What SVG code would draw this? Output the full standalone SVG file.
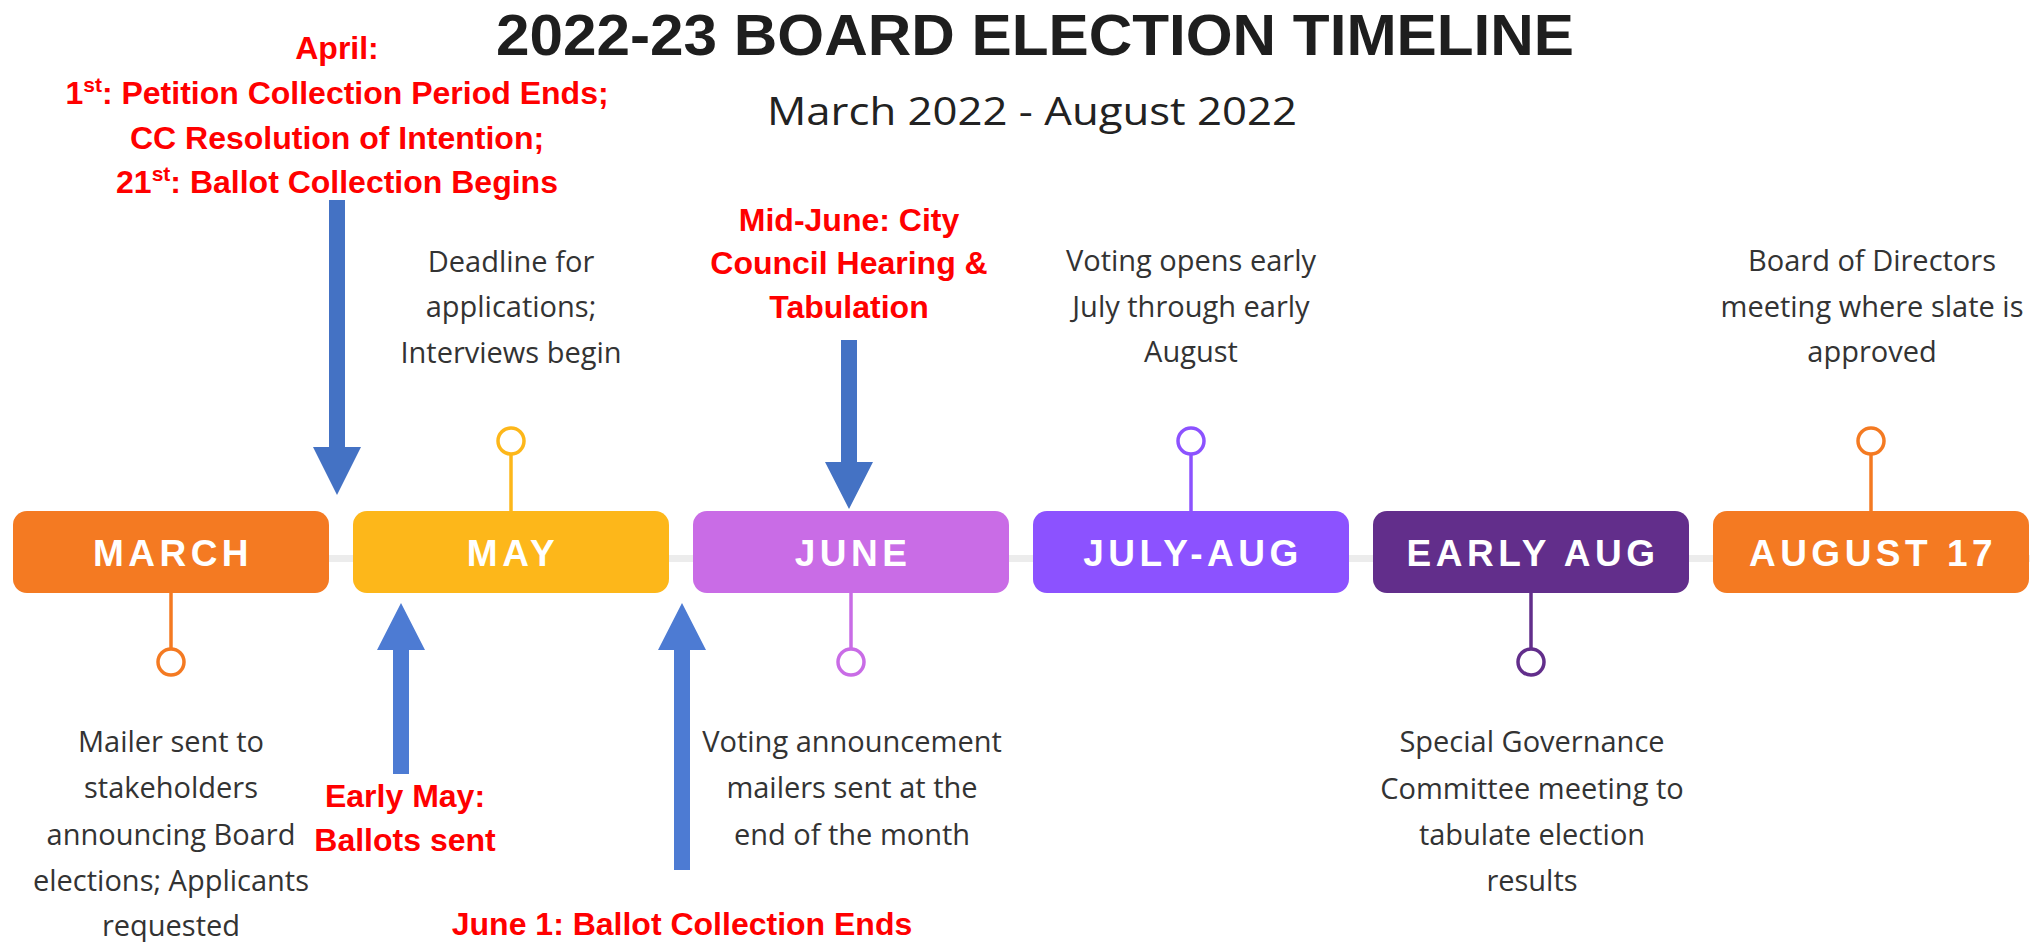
<svg xmlns="http://www.w3.org/2000/svg" width="2033" height="942" viewBox="0 0 2033 942">
<style>
.title{font-family:"Liberation Sans",Arial,sans-serif;font-weight:bold;fill:#1e1e1e}
.sub{font-family:"Open Sans","Liberation Sans",sans-serif;fill:#222}
.lbl{font-family:"Liberation Sans",Arial,sans-serif;font-weight:bold;font-size:37px;fill:#fff;letter-spacing:4.5px;text-anchor:middle}
.desc{font-family:"Open Sans","Liberation Sans",sans-serif;font-size:29px;fill:#333;text-anchor:middle}
.red{font-family:"Liberation Sans",Arial,sans-serif;font-weight:bold;font-size:32px;fill:#ff0000;text-anchor:middle}
.stem{stroke-width:3.5;fill:none}
.dot{fill:#fff;stroke-width:3.5}
.arrT{fill:#4472c4}
.arrB{fill:#4d7bd3}
</style>
<rect x="0" y="0" width="2033" height="942" fill="#fff"/>
<text class="title" x="1035" y="55" font-size="58" text-anchor="middle" textLength="1078" lengthAdjust="spacingAndGlyphs">2022-23 BOARD ELECTION TIMELINE</text>
<text class="sub" x="1032" y="125" font-size="38" text-anchor="middle" textLength="530" lengthAdjust="spacingAndGlyphs">March 2022 - August 2022</text>
<rect x="13" y="555" width="2017" height="7" fill="#ececec"/>
<g id="march">
<line class="stem" x1="171" y1="593" x2="171" y2="649" stroke="#f47a22"/>
<circle class="dot" cx="171" cy="662" r="13" stroke="#f47a22"/>
<rect x="13" y="511" width="316" height="82" rx="14" fill="#f47a22"/>
<text class="lbl" x="173" y="566">MARCH</text>
<text class="desc"><tspan x="171" y="752">Mailer sent to</tspan><tspan x="171" y="798">stakeholders</tspan><tspan x="171" y="845">announcing Board</tspan><tspan x="171" y="891">elections; Applicants</tspan><tspan x="171" y="936">requested</tspan></text>
</g>
<g id="may">
<line class="stem" x1="511" y1="454" x2="511" y2="511" stroke="#fdb71a"/>
<circle class="dot" cx="511" cy="441" r="13" stroke="#fdb71a"/>
<rect x="353" y="511" width="316" height="82" rx="14" fill="#fdb71a"/>
<text class="lbl" x="513" y="566">MAY</text>
<text class="desc"><tspan x="511" y="272">Deadline for</tspan><tspan x="511" y="317">applications;</tspan><tspan x="511" y="363">Interviews begin</tspan></text>
</g>
<g id="june">
<line class="stem" x1="851" y1="593" x2="851" y2="649" stroke="#c96ce6"/>
<circle class="dot" cx="851" cy="662" r="13" stroke="#c96ce6"/>
<rect x="693" y="511" width="316" height="82" rx="14" fill="#c96ce6"/>
<text class="lbl" x="853" y="566">JUNE</text>
<text class="desc"><tspan x="852" y="752">Voting announcement</tspan><tspan x="852" y="798">mailers sent at the</tspan><tspan x="852" y="845">end of the month</tspan></text>
</g>
<g id="july-aug">
<line class="stem" x1="1191" y1="454" x2="1191" y2="511" stroke="#8c52ff"/>
<circle class="dot" cx="1191" cy="441" r="13" stroke="#8c52ff"/>
<rect x="1033" y="511" width="316" height="82" rx="14" fill="#8c52ff"/>
<text class="lbl" x="1193" y="566">JULY-AUG</text>
<text class="desc"><tspan x="1191" y="271">Voting opens early</tspan><tspan x="1191" y="317">July through early</tspan><tspan x="1191" y="362">August</tspan></text>
</g>
<g id="early-aug">
<line class="stem" x1="1531" y1="593" x2="1531" y2="649" stroke="#622e8b"/>
<circle class="dot" cx="1531" cy="662" r="13" stroke="#622e8b"/>
<rect x="1373" y="511" width="316" height="82" rx="14" fill="#622e8b"/>
<text class="lbl" x="1533" y="566">EARLY AUG</text>
<text class="desc"><tspan x="1532" y="752">Special Governance</tspan><tspan x="1532" y="799">Committee meeting to</tspan><tspan x="1532" y="845">tabulate election</tspan><tspan x="1532" y="891">results</tspan></text>
</g>
<g id="august-17">
<line class="stem" x1="1871" y1="454" x2="1871" y2="511" stroke="#f47a22"/>
<circle class="dot" cx="1871" cy="441" r="13" stroke="#f47a22"/>
<rect x="1713" y="511" width="316" height="82" rx="14" fill="#f47a22"/>
<text class="lbl" x="1873" y="566">AUGUST 17</text>
<text class="desc"><tspan x="1872" y="271">Board of Directors</tspan><tspan x="1872" y="317">meeting where slate is</tspan><tspan x="1872" y="362">approved</tspan></text>
</g>
<g id="april-note">
<text class="red" x="337" y="59">April:</text>
<text class="red" x="337" y="104">1<tspan font-size="21" dy="-12">st</tspan><tspan dy="12">: Petition Collection Period Ends;</tspan></text>
<text class="red" x="337" y="149">CC Resolution of Intention;</text>
<text class="red" x="337" y="193">21<tspan font-size="21" dy="-12">st</tspan><tspan dy="12">: Ballot Collection Begins</tspan></text>
</g>
<g id="midjune-note">
<text class="red"><tspan x="849" y="231">Mid-June: City</tspan><tspan x="849" y="274">Council Hearing &amp;</tspan><tspan x="849" y="318">Tabulation</tspan></text>
</g>
<g id="earlymay-note">
<text class="red"><tspan x="405" y="807">Early May:</tspan><tspan x="405" y="851">Ballots sent</tspan></text>
</g>
<g id="june1-note">
<text class="red" x="682" y="935">June 1: Ballot Collection Ends</text>
</g>
<g id="connectors">
<path class="arrT" d="M329,200 H345 V447 H361 L337,495 L313,447 H329 Z"/>
<path class="arrT" d="M841,340 H857 V462 H873 L849,509 L825,462 H841 Z"/>
<path class="arrB" d="M401,603 L425,650 H409 V774 H393 V650 H377 Z"/>
<path class="arrB" d="M682,603 L706,650 H690 V870 H674 V650 H658 Z"/>
</g>
</svg>
